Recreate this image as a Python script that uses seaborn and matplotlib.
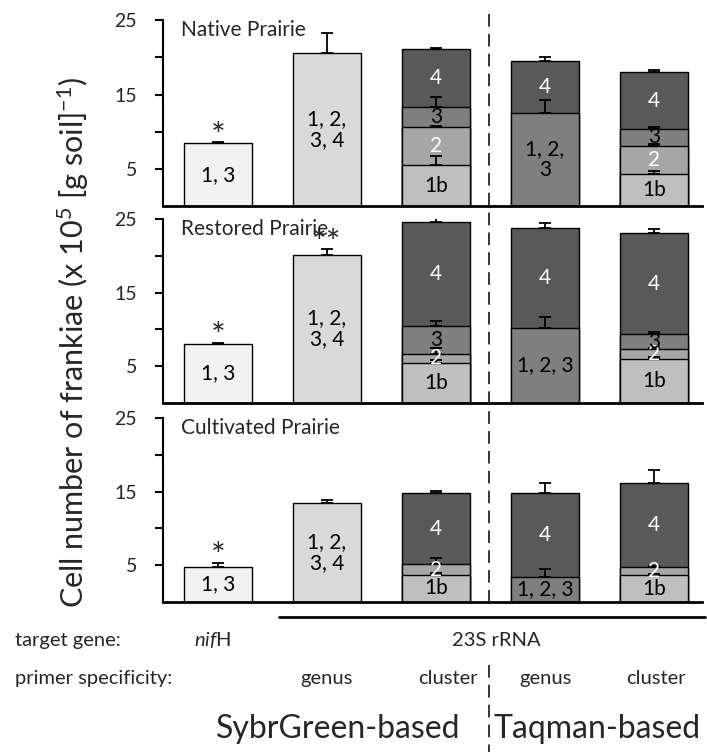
import numpy as np
import pandas as pd
import matplotlib
matplotlib.use("Agg")
import matplotlib.pyplot as plt
import seaborn as sns
from matplotlib.lines import Line2D

sites = ["Native Prairie", "Restored Prairie", "Cultivated Prairie"]
assays = ["nifH", "genus_sg", "cluster_sg", "genus_tq", "cluster_tq"]

# cumulative top of every stacked segment, bottom to top (x 10^5 cells per g soil)
native_tops = [[8.45], [20.6], [5.5, 10.6, 13.3, 21.1], [12.5, 19.5], [4.3, 8.1, 10.4, 18.0]]
restored_tops = [[8.05], [20.15], [5.5, 6.65, 10.4, 24.55], [10.25, 23.8], [6.0, 7.3, 9.4, 23.05]]
cultivated_tops = [[4.8], [13.5], [3.7, 5.1, 14.75], [3.45, 14.8], [3.6, 4.8, 16.15]]

# upward standard errors of every segment
native_err = [[0.15], [2.7], [1.3, 0.25, 1.35, 0.15], [1.8, 0.6], [0.45, 0.25, 0.25, 0.3]]
restored_err = [[0.15], [0.75], [0.3, 0.85, 0.75, 0.65], [1.4, 0.6], [0.3, 0.2, 0.2, 0.55]]
cultivated_err = [[0.55], [0.3], [0.2, 0.85, 0.35], [1.0, 1.4], [0.2, 0.1, 1.8]]

# clusters covered by each segment
native_labels = [["1, 3"], ["1, 2,\n3, 4"], ["1b", "2", "3", "4"], ["1, 2,\n3", "4"], ["1b", "2", "3", "4"]]
restored_labels = [["1, 3"], ["1, 2,\n3, 4"], ["1b", "2", "3", "4"], ["1, 2, 3", "4"], ["1b", "2", "3", "4"]]
cultivated_labels = [["1, 3"], ["1, 2,\n3, 4"], ["1b", "2", "4"], ["1, 2, 3", "4"], ["1b", "2", "4"]]

native_stars = ["*", "", "", "", ""]
restored_stars = ["*", "**", "", "", ""]
cultivated_stars = ["*", "", "", "", ""]

gene_row = ["nifH", "23S rRNA"]
primer_row = ["genus", "cluster", "genus", "cluster"]
method_row = ["SybrGreen-based", "Taqman-based"]


def seg_fill(label):
    if label == "1, 3":
        return "#f2f2f2"
    if label.startswith("1, 2,\n3, 4"):
        return "#d9d9d9"
    if label.startswith("1, 2"):
        return "#7f7f7f"
    return {"1b": "#bfbfbf", "2": "#a6a6a6", "3": "#7f7f7f", "4": "#595959"}[label]


def seg_text(label):
    return "white" if label in ("2", "4") else "black"


rows = []
site_data = zip(sites,
                [native_tops, restored_tops, cultivated_tops],
                [native_err, restored_err, cultivated_err],
                [native_labels, restored_labels, cultivated_labels])
for site, tops, errs, labels in site_data:
    for assay, t, e, l in zip(assays, tops, errs, labels):
        bottoms = [0.0] + t[:-1]
        for i in range(len(t)):
            rows.append(dict(site=site, assay=assay, seg=i, top=t[i], bottom=bottoms[i],
                             err=e[i], label=l[i], fill=seg_fill(l[i])))
df = pd.DataFrame(rows)
stars = dict(zip(sites, [native_stars, restored_stars, cultivated_stars]))

sns.set_style("ticks")
plt.rcParams["font.family"] = ["Lato", "DejaVu Sans"]
plt.rcParams["mathtext.fontset"] = "custom"
plt.rcParams["mathtext.rm"] = "Lato"
plt.rcParams["mathtext.it"] = "Lato:italic"

fig = plt.figure(figsize=(7.07, 7.52), dpi=100)
boxes = [[0.231, 0.7254, 0.762, 0.248],
         [0.231, 0.4641, 0.762, 0.2447],
         [0.231, 0.1995, 0.762, 0.2447]]

for site, box in zip(sites, boxes):
    ax = fig.add_axes(box)
    d = df[df.site == site]
    # draw upper segments first so the lower ones cover them
    for seg in sorted(d.seg.unique(), reverse=True):
        sub = d[d.seg == seg]
        sns.barplot(data=sub, x="assay", y="top", hue="assay", order=assays,
                    palette=dict(zip(sub.assay, sub.fill)), width=0.624,
                    saturation=1, edgecolor="black", linewidth=1.0,
                    errorbar=None, legend=False, ax=ax)
    xpos = d.assay.map(assays.index).to_numpy()
    ax.errorbar(xpos, d.top, yerr=[np.zeros(len(d)), d.err], fmt="none",
                ecolor="black", elinewidth=1.3, capsize=4, capthick=1.3, zorder=5)
    for x, (_, r) in zip(xpos, d.iterrows()):
        ax.text(x, (r.top + r.bottom) / 2, r.label, ha="center", va="center",
                fontsize=15, color=seg_text(r.label), linespacing=1.05, zorder=6)
    for i, s in enumerate(stars[site]):
        if s:
            last = d[d.assay == assays[i]].iloc[-1]
            ax.text(i, last.top + last.err - 0.6, s, ha="center", va="baseline",
                    fontsize=25, zorder=6)
    ax.text(0.032, 23.6, site, transform=ax.get_yaxis_transform(), fontsize=15,
            va="center", ha="left")
    ax.set_xlim(-0.5, 4.44)
    ax.set_ylim(0, 25)
    ax.set_yticks([5, 15, 25])
    ax.set_yticks([10, 20], minor=True)
    ax.tick_params(axis="y", which="both", direction="out", length=6, width=1.5,
                   pad=13, labelsize=14, color="black")
    ax.tick_params(axis="x", bottom=False, labelbottom=False)
    ax.set_xlabel("")
    ax.set_ylabel("")
    sns.despine(ax=ax)
    ax.spines["left"].set_linewidth(1.5)
    ax.spines["bottom"].set_linewidth(2.0)
    ax.spines["left"].set_color("black")
    ax.spines["bottom"].set_color("black")
    ax.set_facecolor("none")

# dashed separator between the two qPCR chemistries
fig.add_artist(Line2D([0.6917, 0.6917], [0.982, 0.1995], color="#262626", lw=1.3,
                      ls=(0, (7, 4)), transform=fig.transFigure))
fig.add_artist(Line2D([0.6917, 0.6917], [0.116, 0.0], color="#262626", lw=1.3,
                      ls=(0, (7, 4)), transform=fig.transFigure))
# bracket under the 23S rRNA assays
fig.add_artist(Line2D([0.3946, 0.997], [0.1795, 0.1795], color="black", lw=2.0,
                      transform=fig.transFigure))

fig.text(0.104, 0.545, r"Cell number of frankiae (x 10$^5$ [g soil]$^{-1}$)",
         rotation=90, ha="center", va="center", fontsize=22)

fig.text(0.0212, 0.141, "target gene:", fontsize=14.5, va="baseline")
fig.text(0.274, 0.141, r"$\mathit{nif}$H", fontsize=14.5, va="baseline")
fig.text(0.7016, 0.141, gene_row[1], fontsize=14.5, va="baseline", ha="center")
fig.text(0.0212, 0.091, "primer specificity:", fontsize=14.5, va="baseline")
for x, s in zip([0.4625, 0.634, 0.771, 0.928], primer_row):
    fig.text(x, 0.091, s, fontsize=14.5, va="baseline", ha="center")
fig.text(0.479, 0.019, method_row[0], fontsize=23, va="baseline", ha="center")
fig.text(0.844, 0.019, method_row[1], fontsize=23, va="baseline", ha="center")

fig.savefig("out.png", dpi=100)
